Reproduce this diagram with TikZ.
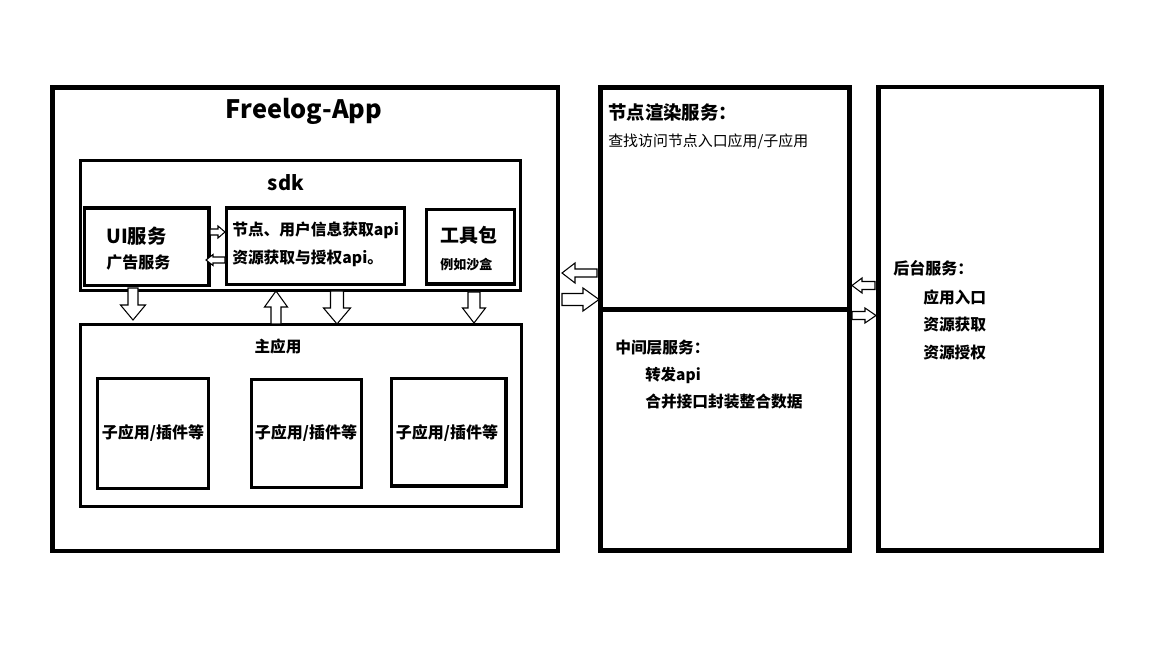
\documentclass[tikz,border=0pt]{standalone}
\usepackage{fontspec}
\setmainfont{Noto Sans CJK SC}
\newcommand{\fsz}[1]{\fontsize{#1}{#1}\selectfont}
\tikzset{
  x=0.75pt, y=-0.75pt,
  pbox/.style={draw=black, fill=none, inner sep=0pt, outer sep=0pt, anchor=north west},
  thickbox/.style={pbox, line width=3.6pt},
  thinbox/.style={pbox, line width=2.3pt},
  blk/.style={draw=black, fill=white, line width=0.8pt, line join=miter},
  lbl/.style={inner sep=0pt, text=black, anchor=west},
  clbl/.style={inner sep=0pt, text=black, anchor=center}
}
% \bx{name}{x1}{y1}{x2}{y2}{style}
\newcommand{\bx}[6]{\node[#6, minimum width={(#4-#2)*0.75pt}, minimum height={(#5-#3)*0.75pt}] (#1) at (#2,#3) {};}
% vertical block arrow: \varr{x}{ytail}{yheadbase}{ytip}{shafthalf}{headhalf}
\newcommand{\varr}[6]{\draw[blk] (#1-#5,#2) -- (#1-#5,#3) -- (#1-#6,#3) -- (#1,#4) -- (#1+#6,#3) -- (#1+#5,#3) -- (#1+#5,#2) -- cycle;}
% horizontal block arrow: \harr{y}{xtail}{xheadbase}{xtip}{shafthalf}{headhalf}
\newcommand{\harr}[6]{\draw[blk] (#2,#1-#5) -- (#3,#1-#5) -- (#3,#1-#6) -- (#4,#1) -- (#3,#1+#6) -- (#3,#1+#5) -- (#2,#1+#5) -- cycle;}
\begin{document}
\begin{tikzpicture}
\useasboundingbox[fill=white] (0,0) rectangle (1152,648);

% boxes
\bx{app}{52.5}{87.5}{558}{551}{thickbox}
\bx{sdk}{80.5}{160.5}{520.5}{290.5}{thinbox}
\bx{ui}{84.5}{208}{209}{285.5}{thinbox}
\bx{api}{226.5}{208}{404.5}{284.5}{thinbox}
\bx{tool}{426.5}{209.5}{514.5}{284}{thinbox}
\bx{main}{80.5}{324.5}{521.5}{506.5}{thinbox}
\bx{sub1}{97.5}{378.5}{208.5}{488.5}{thinbox}
\bx{sub2}{251.5}{379.5}{361.5}{487.5}{thinbox}
\bx{sub3}{391.5}{378.5}{506}{486}{thinbox}
\bx{render}{600.5}{87.5}{849.5}{309.5}{thickbox}
\bx{mid}{600.5}{309.5}{849.5}{550.5}{thickbox}
\bx{back}{878.5}{87}{1101.5}{550.5}{thickbox}

% block arrows
\varr{133}{288}{305}{320}{5}{12.5}
\varr{276}{324}{307}{291}{5}{11.5}
\varr{337}{291}{308}{324}{6.5}{13.5}
\varr{474}{292}{308}{323}{6}{11.5}
\harr{232}{210}{218}{225}{3}{6}
\harr{260}{225}{213}{206}{3}{5.5}
\harr{273}{597}{575}{562}{4}{10}
\harr{299.5}{562}{583}{599}{6}{11.5}
\harr{285.5}{875}{862}{852}{4}{7.5}
\harr{315.5}{852}{865}{876}{4}{7.5}

% texts
\node[clbl, font=\fsz{19}\bfseries] (tApp) at (304,111) {Freelog-App};
\node[clbl, font=\fsz{15}\bfseries] (tSdk) at (286,183) {sdk};
\node[lbl, font=\fsz{14.5}\bfseries] (tUi) at (106,236) {UI服务};
\node[lbl, font=\fsz{12}\bfseries] (tAd) at (106,262) {广告服务};
\node[lbl, font=\fsz{11.8}\bfseries] (tApi1) at (232,230) {节点、用户信息获取api};
\node[lbl, font=\fsz{11.8}\bfseries] (tApi2) at (232,258) {资源获取与授权api。};
\node[lbl, font=\fsz{14.2}\bfseries] (tTool) at (440,235) {工具包};
\node[lbl, font=\fsz{9.75}\bfseries] (tSand) at (440,265) {例如沙盒};
\node[clbl, font=\fsz{11.7}\bfseries] (tMain) at (278,347) {主应用};
\node[clbl, font=\fsz{12}\bfseries] (tSub1) at (153,433) {子应用/插件等};
\node[clbl, font=\fsz{12}\bfseries] (tSub2) at (306,433) {子应用/插件等};
\node[clbl, font=\fsz{12}\bfseries] (tSub3) at (447,433) {子应用/插件等};
\node[lbl, font=\fsz{13.8}\bfseries] (tRender) at (608,112) {节点渲染服务：};
\node[lbl, font=\fsz{11.2}] (tFind) at (608,142) {查找访问节点入口应用/子应用};
\node[lbl, font=\fsz{11.8}\bfseries] (tMid) at (615,348) {中间层服务：};
\node[lbl, font=\fsz{11.6}\bfseries] (tFwd) at (645,375) {转发api};
\node[lbl, font=\fsz{11.8}\bfseries] (tMerge) at (645,402) {合并接口封装整合数据};
\node[lbl, font=\fsz{12}\bfseries] (tBack) at (893,268) {后台服务：};
\node[lbl, font=\fsz{11.8}\bfseries] (tB1) at (923,297) {应用入口};
\node[lbl, font=\fsz{11.8}\bfseries] (tB2) at (923,325) {资源获取};
\node[lbl, font=\fsz{11.8}\bfseries] (tB3) at (923,353) {资源授权};
\end{tikzpicture}
\end{document}
